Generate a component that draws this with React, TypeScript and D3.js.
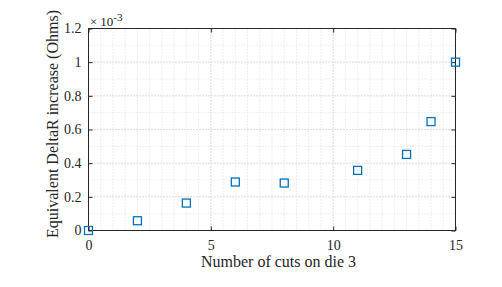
import * as d3 from 'd3';
import React, {useEffect, useRef} from 'react';

// number of cuts on die 3
const cuts: number[] = [0, 2, 4, 6, 8, 11, 13, 14, 15];
// equivalent DeltaR increase, in units of 1e-3 Ohms
const deltaR: number[] = [0, 0.058, 0.163, 0.288, 0.282, 0.357, 0.452, 0.647, 1.0];

const xTicks: number[] = [0, 5, 10, 15];
const yTicks: number[] = [0, 0.2, 0.4, 0.6, 0.8, 1.0, 1.2];
const yTickLabels: string[] = ['0', '0.2', '0.4', '0.6', '0.8', '1', '1.2'];

interface Point {
  x: number,
  y: number
}

const ScatterChart: React.FC = () => {
  const chartRef = useRef<SVGSVGElement>(null);

  const initChart = () => {
    const width = 502;
    const height = 287;
    const left = 88.5, right = 455.5, top = 28.5, bottom = 230.5;
    const font = '"Liberation Serif", "Times New Roman", serif';
    const axisColor = '#262626';

    const svg = d3.select(chartRef.current);
    svg.selectAll('*').remove();
    svg.attr('width', width).attr('height', height);

    const x = d3.scaleLinear().domain([0, 15]).range([left, right]);
    const y = d3.scaleLinear().domain([0, 1.2]).range([bottom, top]);

    const data: Point[] = cuts.map((c, i) => ({x: c, y: deltaR[i]}));

    // minor grid
    const grid = svg.append('g');
    const minorX = d3.range(0, 15.01, 0.5);
    const minorY = d3.range(0, 1.201, 0.1);
    grid.selectAll('line.mx')
      .data(minorX)
      .enter()
      .append('line')
      .attr('x1', d => x(d)).attr('x2', d => x(d))
      .attr('y1', top).attr('y2', bottom)
      .attr('stroke', '#dedede')
      .attr('stroke-width', 1)
      .attr('stroke-dasharray', '1,2');
    grid.selectAll('line.my')
      .data(minorY)
      .enter()
      .append('line')
      .attr('y1', d => y(d)).attr('y2', d => y(d))
      .attr('x1', left).attr('x2', right)
      .attr('stroke', '#dedede')
      .attr('stroke-width', 1)
      .attr('stroke-dasharray', '1,2');

    // major grid
    grid.selectAll('line.gx')
      .data(xTicks)
      .enter()
      .append('line')
      .attr('x1', d => x(d)).attr('x2', d => x(d))
      .attr('y1', top).attr('y2', bottom)
      .attr('stroke', '#cfcfcf')
      .attr('stroke-width', 1)
      .attr('stroke-dasharray', '1,2');
    grid.selectAll('line.gy')
      .data(yTicks)
      .enter()
      .append('line')
      .attr('y1', d => y(d)).attr('y2', d => y(d))
      .attr('x1', left).attr('x2', right)
      .attr('stroke', '#cfcfcf')
      .attr('stroke-width', 1)
      .attr('stroke-dasharray', '1,2');

    // box
    svg.append('rect')
      .attr('x', left).attr('y', top)
      .attr('width', right - left).attr('height', bottom - top)
      .attr('fill', 'none')
      .attr('stroke', axisColor)
      .attr('stroke-width', 1);

    // axes with inside ticks on all four sides
    const tickLen = 4;
    const xAxis = d3.axisBottom(x).tickValues(xTicks).tickSize(-tickLen).tickPadding(10).tickFormat(d3.format('d'));
    const xAxisTop = d3.axisTop(x).tickValues(xTicks).tickSize(-tickLen).tickFormat(() => '');
    const yAxis = d3.axisLeft(y).tickValues(yTicks).tickSize(-tickLen).tickPadding(7)
      .tickFormat((d, i) => yTickLabels[i]);
    const yAxisRight = d3.axisRight(y).tickValues(yTicks).tickSize(-tickLen).tickFormat(() => '');

    const styleAxis = (g: d3.Selection<SVGGElement, unknown, null, undefined>) => {
      g.select('.domain').remove();
      g.attr('font-size', null).attr('font-family', null);
      g.selectAll('line').attr('stroke', axisColor);
      g.selectAll('text')
        .attr('fill', axisColor)
        .style('font-family', font)
        .style('font-size', '14px');
    };

    svg.append('g').attr('transform', `translate(0,${bottom})`).call(xAxis).call(styleAxis);
    svg.append('g').attr('transform', `translate(0,${top})`).call(xAxisTop).call(styleAxis);
    svg.append('g').attr('transform', `translate(${left},0)`).call(yAxis).call(styleAxis);
    svg.append('g').attr('transform', `translate(${right},0)`).call(yAxisRight).call(styleAxis);

    // exponent label
    const expo = svg.append('text')
      .attr('x', 90).attr('y', 25.5)
      .attr('fill', axisColor)
      .style('font-family', font)
      .style('font-size', '13px');
    expo.append('tspan').text('\u00d7');
    expo.append('tspan').attr('dx', 3).text('10');
    expo.append('tspan').attr('dy', -5).style('font-size', '11px').text('-3');

    // markers
    const size = 8;
    svg.append('g').selectAll('rect')
      .data(data)
      .enter()
      .append('rect')
      .attr('x', d => x(d.x) - size / 2)
      .attr('y', d => y(d.y) - size / 2)
      .attr('width', size).attr('height', size)
      .attr('fill', 'none')
      .attr('stroke', '#0072BD')
      .attr('stroke-width', 1.3);

    // axis titles
    svg.append('text')
      .attr('x', 278.5).attr('y', 267)
      .attr('text-anchor', 'middle')
      .attr('fill', axisColor)
      .style('font-family', font)
      .style('font-size', '16px')
      .text('Number of cuts on die 3');

    svg.append('text')
      .attr('transform', `translate(57.5,${(top + bottom) / 2 - 5.5}) rotate(-90)`)
      .attr('text-anchor', 'middle')
      .attr('fill', axisColor)
      .style('font-family', font)
      .style('font-size', '16px')
      .text('Equivalent DeltaR increase (Ohms)');
  }

  useEffect(() => {
    initChart()
  }, [])

  return (
    <svg ref={chartRef} style={{position: 'absolute', left: 0, top: 0, display: 'block'}}/>
  )
}

export default function App() {
  return (
    <div style={{width: 502, height: 287, background: '#fff'}}>
      <ScatterChart/>
    </div>
  );
}
